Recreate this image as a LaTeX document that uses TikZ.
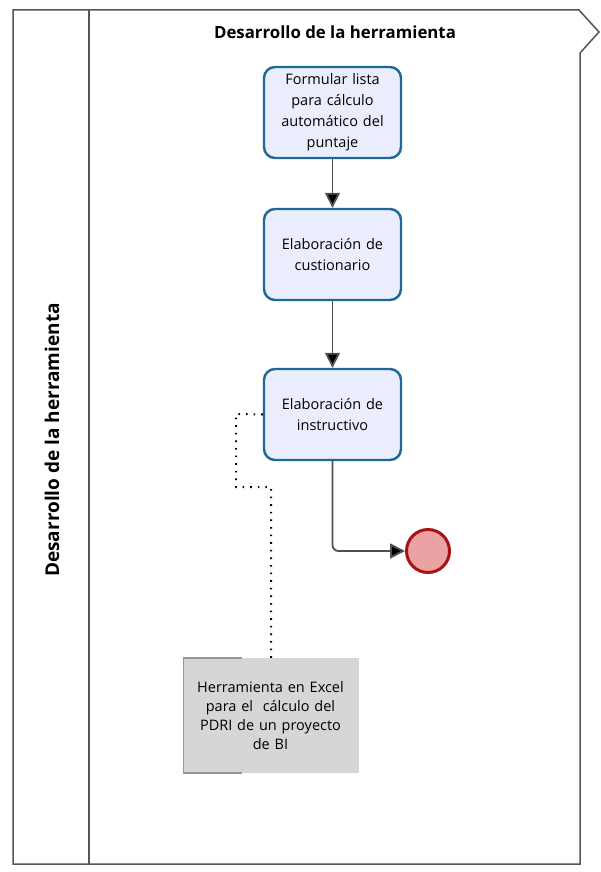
\documentclass[tikz,border=0pt]{standalone}
\usepackage{fontspec}
\setmainfont{Open Sans}
\usetikzlibrary{arrows.meta}
\definecolor{taskfill}{RGB}{234,238,252}
\definecolor{taskline}{RGB}{28,104,150}
\definecolor{endfill}{RGB}{234,162,162}
\definecolor{endline}{RGB}{168,18,20}
\definecolor{datafill}{RGB}{214,214,214}
\definecolor{dataedge}{RGB}{150,150,150}
\definecolor{frameline}{RGB}{85,85,85}
\definecolor{flowline}{RGB}{80,80,80}
\begin{document}
\begin{tikzpicture}[x=1pt,y=-1pt,
  task/.style={draw=taskline,line width=2.4pt,fill=taskfill,rounded corners=11pt,
    minimum width=137pt,minimum height=91pt,inner sep=0pt,align=center,
    text width=128pt,font=\fontsize{14.5}{21}\selectfont},
  endevent/.style={circle,draw=endline,line width=3pt,fill=endfill,minimum size=43pt,inner sep=0pt},
  dataobj/.style={fill=datafill,minimum width=176pt,minimum height=115pt,inner sep=0pt,
    align=center,text width=165pt,font=\fontsize{14.5}{19}\selectfont},
  flow/.style={draw=flowline,line width=1.8pt,-{Triangle[length=15pt,width=15pt,fill=black]}},
  assoc/.style={draw=black,line width=2pt,dash pattern=on 1.6pt off 6pt}]
\useasboundingbox (0,0) rectangle (600,872);
\fill[white] (0,0) rectangle (600,872);

% pool frame with the lane header strip
\draw[frameline,line width=1.5pt] (13,10) -- (579,10) -- (599,32) -- (580,53) -- (580,864) -- (13,864) -- cycle;
\draw[frameline,line width=1.5pt] (89,10) -- (89,864);
\node[font=\bfseries\fontsize{19}{22}\selectfont,rotate=90] (lanelabel) at (52,440) {Desarrollo de la herramienta};
\node[font=\bfseries\fontsize{16.8}{20}\selectfont] (title) at (335,32) {Desarrollo de la herramienta};

% tasks
\node[task] (t1) at (332.5,112.5) {Formular lista\\para cálculo\\automático del\\puntaje};
\node[task] (t2) at (332.5,254.5) {Elaboración de\\custionario};
\node[task] (t3) at (332.5,414.5) {Elaboración de\\instructivo};

% end event
\node[endevent] (end) at (428,551) {};

% data object
\node[dataobj] (data) at (270.5,715.5) {Herramienta en Excel\\para el\ \ cálculo del\\PDRI de un proyecto\\de BI};
\draw[dataedge,line width=1.6pt] (242,658) -| (183.5,773) -- (242,773);

% sequence flows
\draw[flow] (t1.south) -- (t2.north);
\draw[flow] (t2.south) -- (t3.north);
\draw[flow,rounded corners=6pt] (t3.south) |- (end.west);

% association
\coordinate (a1) at (236,414);
\coordinate (a2) at (236,487);
\coordinate (a3) at (271,487);
\draw[assoc] (t3.west) -- (a1) -- (a2) -- (a3) -- (data.north -| a3);
\end{tikzpicture}
\end{document}
